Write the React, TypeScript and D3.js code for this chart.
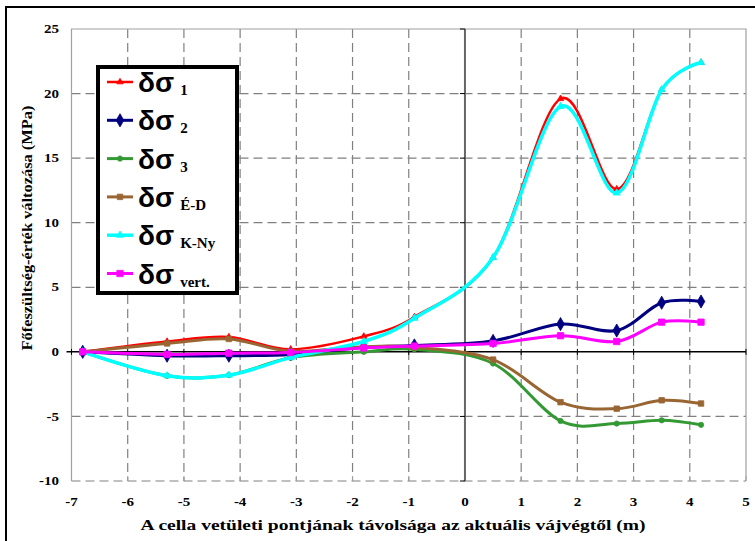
import React from 'react';
import * as d3 from 'd3';

// distance from face end (m)
const xValues = [-6.8, -5.3, -4.2, -3.1, -1.8, -0.9, 0.5, 1.7, 2.7, 3.5, 4.2];

const sigma1 = [0, 0.8, 1.15, 0.2, 1.2, 2.7, 7.3, 19.6, 12.6, 20.3, 22.4];
const sigma2 = [0, -0.3, -0.3, -0.2, 0.35, 0.5, 0.85, 2.15, 1.65, 3.8, 3.9];
const sigma3 = [0, -1.85, -1.8, -0.45, 0.0, 0.2, -0.9, -5.35, -5.55, -5.3, -5.65];
const sigmaED = [0, 0.65, 1.0, 0.05, 0.4, 0.35, -0.6, -3.9, -4.4, -3.75, -4.0];
const sigmaKNy = [0, -1.85, -1.8, -0.45, 0.8, 2.6, 7.3, 19.0, 12.3, 20.3, 22.4];
const sigmaVert = [0, -0.2, -0.1, -0.05, 0.3, 0.45, 0.65, 1.25, 0.8, 2.3, 2.3];

const xTicks = [-7, -6, -5, -4, -3, -2, -1, 0, 1, 2, 3, 4, 5];
const yTicks = [-10, -5, 0, 5, 10, 15, 20, 25];

const series = [
    { sub: '1', values: sigma1, color: '#ff0000', symbol: d3.symbolTriangle, size: 18, width: 2.5 },
    { sub: '2', values: sigma2, color: '#000080', symbol: d3.symbolDiamond, size: 50, width: 3 },
    { sub: '3', values: sigma3, color: '#339933', symbol: d3.symbolCircle, size: 22, width: 3 },
    { sub: 'É-D', values: sigmaED, color: '#996633', symbol: d3.symbolSquare, size: 30, width: 3 },
    { sub: 'K-Ny', values: sigmaKNy, color: '#00ffff', symbol: d3.symbolTriangle, size: 22, width: 3.5 },
    { sub: 'vert.', values: sigmaVert, color: '#ff00ff', symbol: d3.symbolSquare, size: 40, width: 3 },
];

const App = () => {
    const W = 755;
    const H = 541;
    const plot = { left: 71.5, right: 746, top: 29, bottom: 481 };

    const xScale = d3.scaleLinear().domain([-7, 5]).range([plot.left, plot.right]);
    const yScale = d3.scaleLinear().domain([-10, 25]).range([plot.bottom, plot.top]);

    const line = d3
        .line<number>()
        .x((_, i) => xScale(xValues[i]))
        .y((d) => yScale(d))
        .curve(d3.curveCatmullRom.alpha(0));

    const font = 'Liberation Serif, Times New Roman, serif';
    const legend = { x: 98, y: 67, w: 139, h: 226, step: 38.3 };

    return (
        <svg width={W} height={H} style={{ position: 'absolute', left: 0, top: 0, background: '#fff' }}>
            {/* outer frame, cut at right and bottom */}
            <rect x={6} y={7} width={W + 10} height={H + 10} fill="none" stroke="black" strokeWidth={2} />

            {/* grid */}
            {yTicks.filter((t) => t !== 0 && t !== 25).map((t) => (
                <line key={'gy' + t} x1={plot.left} x2={plot.right} y1={yScale(t)} y2={yScale(t)}
                    stroke="#808080" strokeWidth={1.2} strokeDasharray="9,5" />
            ))}
            {xTicks.filter((t) => t !== 0 && t !== -7 && t !== 5).map((t) => (
                <line key={'gx' + t} x1={xScale(t)} x2={xScale(t)} y1={plot.top} y2={plot.bottom}
                    stroke="#808080" strokeWidth={1.2} strokeDasharray="9,5" />
            ))}

            {/* plot border (bottom edge is the dashed -10 grid line) */}
            <path d={`M${plot.left},${plot.bottom}V${plot.top}H${plot.right}V${plot.bottom}`}
                fill="none" stroke="#a0a0a0" strokeWidth={1.2} />
            {xTicks.map((t) => (
                <line key={'bt' + t} x1={xScale(t)} x2={xScale(t)} y1={plot.bottom - 5} y2={plot.bottom} stroke="#a0a0a0" strokeWidth={1} />
            ))}

            {/* axes through zero */}
            <line x1={xScale(0)} x2={xScale(0)} y1={plot.top} y2={plot.bottom} stroke="#666" strokeWidth={2} />
            {yTicks.map((t) => (
                <line key={'ty' + t} x1={xScale(0) - 5} x2={xScale(0)} y1={yScale(t)} y2={yScale(t)} stroke="black" strokeWidth={1} />
            ))}
            <line x1={plot.left - 5} x2={plot.right} y1={yScale(0)} y2={yScale(0)} stroke="black" strokeWidth={1.5} />
            {xTicks.map((t) => (
                <line key={'tx' + t} x1={xScale(t)} x2={xScale(t)} y1={yScale(0) - 3} y2={yScale(0) + 3} stroke="black" strokeWidth={1} />
            ))}

            {/* series */}
            {series.map((s) => (
                <g key={s.sub}>
                    <path d={line(s.values) || ''} fill="none" stroke={s.color} strokeWidth={s.width} strokeLinejoin="round" />
                    {s.values.map((v, i) => (
                        <path key={i} transform={`translate(${xScale(xValues[i])},${yScale(v)})`}
                            d={d3.symbol().type(s.symbol).size(s.size)() || ''} fill={s.color} stroke={s.color} strokeWidth={0.8} />
                    ))}
                </g>
            ))}

            {/* tick labels, slightly stretched like the original */}
            {yTicks.map((t) => (
                <text key={'ly' + t} transform={`translate(59,${yScale(t)}) scale(1.25,1)`} dy="0.35em" textAnchor="end"
                    fontFamily={font} fontWeight="bold" fontSize={12}>{t}</text>
            ))}
            {xTicks.map((t) => (
                <text key={'lx' + t} transform={`translate(${xScale(t)},502) scale(1.25,1)`} dy="0.35em" textAnchor="middle"
                    fontFamily={font} fontWeight="bold" fontSize={12}>{t}</text>
            ))}

            {/* axis titles */}
            <text x={393} y={525} dy="0.35em" textAnchor="middle" fontFamily={font} fontWeight="bold" fontSize={15}
                textLength={505} lengthAdjust="spacingAndGlyphs">
                A cella vetületi pontjának távolsága az aktuális vájvégtől (m)
            </text>
            <text transform="translate(27,228) rotate(-90)" dy="0.35em" textAnchor="middle"
                fontFamily={font} fontWeight="bold" fontSize={15} textLength={245} lengthAdjust="spacingAndGlyphs">
                Főfeszültség-érték változása (MPa)
            </text>

            {/* legend */}
            <rect x={legend.x} y={legend.y} width={legend.w} height={legend.h} fill="white" stroke="black" strokeWidth={4} />
            {series.map((s, i) => {
                const cy = legend.y + 15 + i * legend.step;
                return (
                    <g key={'lg' + s.sub}>
                        <line x1={107} x2={133} y1={cy} y2={cy} stroke={s.color} strokeWidth={s.width} />
                        <path transform={`translate(120,${cy})`} d={d3.symbol().type(s.symbol).size(s.size)() || ''}
                            fill={s.color} stroke={s.color} strokeWidth={0.8} />
                        <text x={138} y={cy + 10} fontFamily="Liberation Sans, Arial, sans-serif" fontWeight="bold" fontSize={28}>
                            δσ
                            <tspan dx={6} dy={3} fontFamily={font} fontWeight="bold" fontSize={15}>{s.sub}</tspan>
                        </text>
                    </g>
                );
            })}
        </svg>
    );
};

export default App;
